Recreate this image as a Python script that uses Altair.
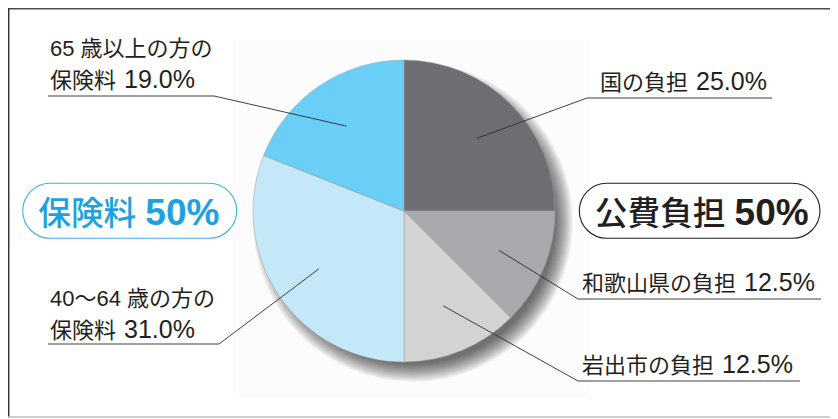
import math
import altair as alt
import pandas as pd

# ---------------- data ----------------
categories = ["国の負担", "和歌山県の負担", "岩出市の負担", "40～64 歳の方の保険料", "65 歳以上の方の保険料"]
values = [25.0, 12.5, 12.5, 31.0, 19.0]
label_first = ["国の負担", "和歌山県の負担", "岩出市の負担", "40～64 歳の方の", "65 歳以上の方の"]
label_second = ["", "", "", "保険料", "保険料"]
group_names = ["保険料", "公費負担"]
group_values = [50, 50]

# ---------------- styles / layout ----------------
slice_colors = ["#6d6e71", "#a7a9ac", "#d1d3d4", "#c5e8f8", "#6acff6"]
CJK = "Noto Sans CJK JP"
MIX = "Liberation Sans, Noto Sans CJK JP"
LAT = "Liberation Sans"
W, H = 822, 411
CX, CY, R = 404, 211, 151
FS, FS_NUM = 22, 25
BFS, BFS_NUM = 32.7, 37

xs = alt.Scale(domain=[8, 8 + W], nice=False, zero=False)
ys = alt.Scale(domain=[8, 8 + H], nice=False, zero=False, reverse=True)


def X(f="x"):
    return alt.X(f"{f}:Q", scale=xs, axis=None)


def Y(f="y"):
    return alt.Y(f"{f}:Q", scale=ys, axis=None)


# label layout: text x, baseline of last line, knee x, knee y, underline end x
layout = [
    (600, 90, 587, 98, 772),
    (582, 291, 578, 299, 821),
    (582, 373, 578, 381, 800),
    (50, 338, 219, 344, 48),
    (50, 88, 214, 96, 48),
]
LINE_GAP = 32.5

# ---------------- layers ----------------
back = alt.Chart(pd.DataFrame({"x": [233], "x2": [590], "y": [40], "y2": [397]})).mark_rect(
    color="#fcfcfc"
).encode(x=X(), x2="x2:Q", y=Y(), y2="y2:Q")

# soft drop shadow (stack of translucent discs, one layer per radius)
shadow_df = pd.DataFrame({"x": [CX + 9], "y": [CY + 11]})
shadow_layers = [
    alt.Chart(shadow_df).mark_arc(
        radius=r, theta=0, theta2=2 * math.pi, color="#000000", opacity=0.04, strokeWidth=0
    ).encode(x=X(), y=Y())
    for r in range(142, 161)
]

pie_df = pd.DataFrame({
    "cat": categories,
    "value": values,
    "order": list(range(len(values))),
    "x": [CX] * len(values),
    "y": [CY] * len(values),
})
pie = alt.Chart(pie_df).mark_arc(radius=R, stroke="#9d9fa2", strokeWidth=0.5).encode(
    theta=alt.Theta("value:Q", stack=True),
    order=alt.Order("order:Q"),
    color=alt.Color("cat:N", scale=alt.Scale(domain=categories, range=slice_colors), legend=None),
    x=X(),
    y=Y(),
)

# leader lines from slice mid angles, labels split into name and value parts
total = sum(values)
cum = 0.0
lead_rows, mix_rows, name_rows, val_rows = [], [], [], []
for i, v in enumerate(values):
    mid = (cum + v / 2) / total * 2 * math.pi
    cum += v
    sx = CX + 0.68 * R * math.sin(mid)
    sy = CY - 0.68 * R * math.cos(mid)
    tx, ty, kx, ky, ex = layout[i]
    lead_rows += [
        {"lid": i, "seq": 0, "x": sx, "y": sy},
        {"lid": i, "seq": 1, "x": kx, "y": ky},
        {"lid": i, "seq": 2, "x": ex, "y": ky},
    ]
    if label_second[i]:
        mix_rows.append({"x": tx, "y": ty - LINE_GAP, "t": label_first[i]})
        name = label_second[i]
    else:
        name = label_first[i]
    name_rows.append({"x": tx, "y": ty, "t": name})
    val_rows.append({"x": tx + len(name) * FS + 8, "y": ty, "t": f"{v:.1f}%"})

leaders = alt.Chart(pd.DataFrame(lead_rows)).mark_line(color="#2b2b2b", strokeWidth=0.9).encode(
    x=X(), y=Y(), detail="lid:N", order="seq:Q"
)
txt_style = dict(align="left", baseline="alphabetic", color="#231f20")
mix_text = alt.Chart(pd.DataFrame(mix_rows)).mark_text(font=MIX, fontSize=FS, **txt_style).encode(
    x=X(), y=Y(), text="t:N")
name_text = alt.Chart(pd.DataFrame(name_rows)).mark_text(font=CJK, fontSize=FS, **txt_style).encode(
    x=X(), y=Y(), text="t:N")
val_text = alt.Chart(pd.DataFrame(val_rows)).mark_text(font=LAT, fontSize=FS_NUM, **txt_style).encode(
    x=X(), y=Y(), text="t:N")

# rounded group boxes
box_layout = [(22.7, 236.7, 183.3, 238.3), (579.3, 820, 183.3, 238.3)]
box_styles = [("#3ab0e6", "#1da2df"), ("#231f20", "#231f20")]
box_layers = []
for i, name in enumerate(group_names):
    x1, x2, y1, y2 = box_layout[i]
    stroke, tcol = box_styles[i]
    nx = x1 + 15.5
    bdf = pd.DataFrame({"x": [x1], "x2": [x2], "y": [y1], "y2": [y2],
                        "nx": [nx], "vx": [nx + len(name) * BFS + 9], "ty": [224.5],
                        "n": [name], "v": [f"{group_values[i]}%"]})
    box_layers.append(
        alt.Chart(bdf).mark_rect(fill="white", stroke=stroke, strokeWidth=1.1, cornerRadius=27.5)
        .encode(x=X(), x2="x2:Q", y=Y(), y2="y2:Q")
    )
    box_layers.append(
        alt.Chart(bdf).mark_text(align="left", baseline="alphabetic", font=CJK, fontSize=BFS,
                                 fontWeight=500, color=tcol)
        .encode(x=X("nx"), y=Y("ty"), text="n:N")
    )
    box_layers.append(
        alt.Chart(bdf).mark_text(align="left", baseline="alphabetic", font=LAT, fontSize=BFS_NUM,
                                 fontWeight="bold", color=tcol)
        .encode(x=X("vx"), y=Y("ty"), text="v:N")
    )

# outer frame (top, left, bottom)
frame_top = alt.Chart(pd.DataFrame({"x": [8], "x2": [8 + W], "y": [8.7]})).mark_rule(
    color="#4d4d4f", strokeWidth=1.5).encode(x=X(), x2="x2:Q", y=Y())
frame_left = alt.Chart(pd.DataFrame({"x": [8.7], "y": [8], "y2": [417]})).mark_rule(
    color="#333333", strokeWidth=1.5).encode(x=X(), y=Y(), y2="y2:Q")
frame_bottom = alt.Chart(pd.DataFrame({"x": [8], "x2": [8 + W], "y": [417]})).mark_rule(
    color="#bcbec0", strokeWidth=1.5).encode(x=X(), x2="x2:Q", y=Y())

chart = alt.layer(
    back, *shadow_layers, pie, leaders, mix_text, name_text, val_text, *box_layers,
    frame_top, frame_left, frame_bottom
).properties(
    width=W, height=H, padding=0, autosize=alt.AutoSizeParams(type="none")
).configure_view(stroke=None).configure(background="white")

chart.save("out.html", embed_options={"renderer": "svg", "actions": False})
